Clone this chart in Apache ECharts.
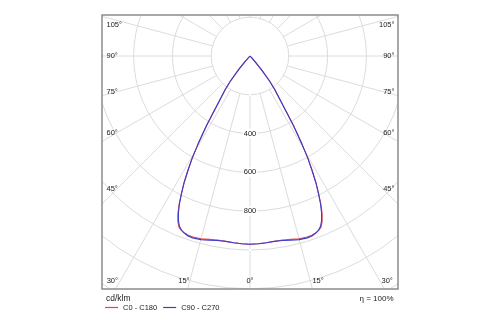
<!DOCTYPE html>
<html>
<head>
<meta charset="utf-8">
<script src="https://cdn.jsdelivr.net/npm/echarts@6/dist/echarts.min.js"></script>
<style>
  html, body { margin: 0; padding: 0; background: #fff; }
  #chart { width: 500px; height: 325px; }
</style>
</head>
<body>
<div id="chart"></div>
<script>
// Luminous intensity distribution (cd/klm) against gamma angle, 0° = nadir.
// Each C-plane pair is symmetric: the right half is C0 / C90, the left half C180 / C270.
const gammaDeg = [0, 2.5, 5, 7.5, 10, 12.5, 15, 17.5, 19, 20.5, 21.5, 22.5, 23.5, 24.5, 25.5, 26.5,
  27.5, 28.5, 29.5, 30.5, 31.3, 32, 33, 34, 35, 36.3, 38, 40, 41.3, 42.2, 43, 90];
const intensityC0 = [970, 969, 966, 963, 963, 968, 975, 978, 977, 972, 966, 956, 932, 897, 850, 792,
  735, 670, 605, 530, 470, 420, 350, 295, 255, 218, 165, 90, 39, 12, 0, 0];
const intensityC90 = [970, 969, 966, 964, 966, 973, 980, 983, 981, 973, 964, 950, 925, 890, 845, 790,
  735, 670, 605, 530, 470, 420, 350, 295, 255, 218, 165, 90, 39, 12, 0, 0];

const seriesNames = ['C0 - C180', 'C90 - C270'];
const seriesColors = ['#e0474c', '#3d3ccb'];
const angleTicks = [0, 15, 30, 45, 60, 75, 90, 105];
const ringLabels = [400, 600, 800];
const unitText = 'cd/klm';
const efficiencyText = 'η = 100%';

// Layout of the diagram frame and polar origin
const frame = { left: 102, top: 15, right: 398, bottom: 289 };
const origin = [250, 56];
const pxPerCd = 0.194;
const radiusMax = 1400, radiusStep = 200;
const innerRing = 200;   // radial grid lines start at this ring
const fontFamily = '"Liberation Sans", Arial, sans-serif';
const textColor = '#222';
const gridColor = '#dcdcdc';

// Build the closed curve: left half (mirrored) from 90° down to nadir, then right half back up
function fullCurve(values) {
  const pts = [];
  for (let i = gammaDeg.length - 1; i >= 0; i--) pts.push([values[i], 360 - gammaDeg[i]]);
  for (let i = 1; i < gammaDeg.length; i++) pts.push([values[i], gammaDeg[i]]);
  return pts;
}

// Angle labels sit on the frame where each ray leaves it
function angleLabelElements() {
  const els = [];
  const [cx, cy] = origin;
  const halfW = cx - frame.left;
  const down = frame.bottom - cy;
  const cornerAngle = Math.atan(halfW / down) * 180 / Math.PI;
  angleTicks.forEach(a => {
    const sides = a === 0 ? [0] : [-1, 1];
    sides.forEach(side => {
      const rad = a * Math.PI / 180;
      let x, y, align;
      if (a < cornerAngle) {
        const dx = down * Math.tan(rad);
        y = frame.bottom - 8;
        if (side === 0) { x = cx; align = 'center'; }
        else if (side < 0) { x = Math.max(cx - dx + 2, frame.left + 16); align = 'right'; }
        else { x = Math.min(cx + dx, frame.right - 16.5); align = 'left'; }
      } else {
        const dy = 0.9 * halfW / Math.tan(rad);
        y = Math.max(cy + dy, frame.top + 9.5);
        if (side < 0) { x = frame.left + 4.5; align = 'left'; }
        else { x = frame.right - 3.5; align = 'right'; }
      }
      els.push({
        type: 'text', z: 60, x: x, y: y,
        style: { text: a + '°', fill: textColor, font: '7.5px ' + fontFamily,
                 align: align, verticalAlign: 'middle' }
      });
    });
  });
  return els;
}

const chart = echarts.init(document.getElementById('chart'), null, { renderer: 'canvas' });

const masks = [
  { x: 0, y: 0, width: 500, height: frame.top },
  { x: 0, y: frame.bottom, width: 500, height: 325 - frame.bottom },
  { x: 0, y: 0, width: frame.left, height: 325 },
  { x: frame.right, y: 0, width: 500 - frame.right, height: 325 }
].map(s => ({ type: 'rect', z: 50, silent: true, shape: s, style: { fill: '#fff' } }));

// Keeps the radial grid lines out of the innermost ring (drawn under the curves and rings)
const innerDisk = {
  type: 'circle', z: 1, silent: true,
  shape: { cx: origin[0], cy: origin[1], r: innerRing * pxPerCd - 0.5 },
  style: { fill: '#fff' }
};

chart.setOption({
  backgroundColor: '#fff',
  animation: false,
  polar: {
    center: origin,
    radius: [0, radiusMax * pxPerCd]
  },
  angleAxis: {
    type: 'value',
    min: 0, max: 360, interval: 15,
    startAngle: 270,
    clockwise: false,
    z: 0,
    axisLine: { show: false },
    axisTick: { show: false },
    axisLabel: { show: false },
    splitLine: { show: true, lineStyle: { color: gridColor, width: 1 } }
  },
  radiusAxis: {
    type: 'value',
    min: 0, max: radiusMax, interval: radiusStep,
    z: 3,
    axisLine: { show: false },
    axisTick: { show: false },
    splitLine: { show: true, lineStyle: { color: gridColor, width: 1 } },
    axisLabel: {
      show: true,
      margin: 0,
      align: 'center',
      verticalAlign: 'middle',
      fontFamily: fontFamily,
      fontSize: 7.5,
      color: textColor,
      backgroundColor: '#fff',
      padding: [1, 1],
      formatter: v => ringLabels.indexOf(v) >= 0 ? String(v) : ''
    }
  },
  legend: {
    z: 100,
    left: 105, top: 303.5,
    orient: 'horizontal',
    padding: 0,
    icon: 'rect',
    itemWidth: 13, itemHeight: 1.2, itemGap: 6,
    selectedMode: false,
    textStyle: { fontFamily: fontFamily, fontSize: 7.5, color: textColor },
    data: seriesNames
  },
  series: seriesNames.map((name, i) => ({
    name: name,
    type: 'line',
    coordinateSystem: 'polar',
    clip: false,
    z: 5,
    symbol: 'none',
    smooth: false,
    color: seriesColors[i],
    lineStyle: { color: seriesColors[i], width: 1.1 },
    data: fullCurve(i === 0 ? intensityC0 : intensityC90)
  })),
  graphic: [innerDisk].concat(masks).concat([
    {
      type: 'rect', z: 55, silent: true,
      shape: { x: frame.left, y: frame.top, width: frame.right - frame.left, height: frame.bottom - frame.top },
      style: { fill: null, stroke: '#8c8c8c', lineWidth: 1.5 }
    },
    {
      type: 'text', z: 60, x: 106, y: 298.5,
      style: { text: unitText, fill: textColor, font: '8.5px ' + fontFamily, verticalAlign: 'middle' }
    },
    {
      type: 'text', z: 60, x: 393.5, y: 299,
      style: { text: efficiencyText, fill: textColor, font: '8px ' + fontFamily, align: 'right', verticalAlign: 'middle' }
    }
  ]).concat(angleLabelElements())
});
</script>
</body>
</html>
